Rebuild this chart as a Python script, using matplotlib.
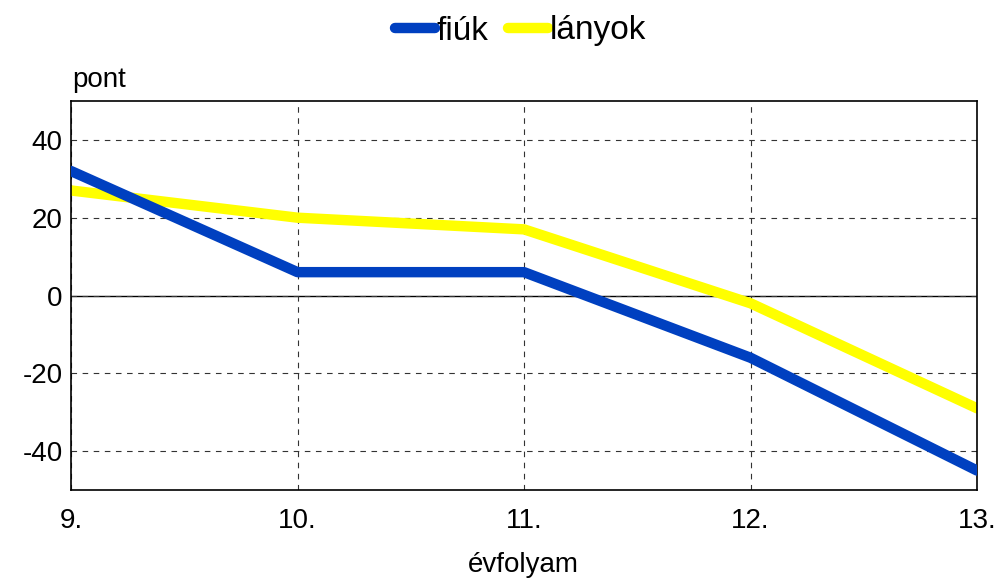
import matplotlib
matplotlib.use("Agg")
import matplotlib.pyplot as plt

plt.rcParams['font.family'] = ['Liberation Sans', 'DejaVu Sans']
plt.rcParams['axes.unicode_minus'] = False

grades = ["9.", "10.", "11.", "12.", "13."]
fiuk = [32, 6, 6, -16, -45]
lanyok = [27, 20, 17, -2, -29]

fig = plt.figure(figsize=(9.97, 5.78), dpi=100)
ax = fig.add_axes([0.0712, 0.1522, 0.9088, 0.6731])

x = list(range(len(grades)))
ax.plot(x, fiuk, color="#0040C0", lw=7.5, solid_capstyle="round", solid_joinstyle="round", label="fiúk", zorder=3)
ax.plot(x, lanyok, color="#FFFF00", lw=7.5, solid_capstyle="round", solid_joinstyle="round", label="lányok", zorder=2)

ax.set_xlim(0, len(grades) - 1)
ax.set_ylim(-50, 50)
ax.set_xticks(x)
ax.set_xticklabels(grades)
ax.set_yticks([-40, -20, 0, 20, 40])
ax.tick_params(axis='both', length=0, labelsize=20)
ax.tick_params(axis='x', pad=13)
ax.tick_params(axis='y', pad=6)
ax.grid(True, linestyle=(0, (5, 5)), color="#333333", lw=0.8, zorder=1)
ax.axhline(0, color="black", lw=1, zorder=1.5)
for s in ax.spines.values():
    s.set_color("black")
    s.set_linewidth(1.2)

fig.text(0.0722, 1 - 80 / 578, "pont", fontsize=20, ha="left", va="center")
fig.text(0.525, 1 - 565 / 578, "évfolyam", fontsize=20, ha="center", va="center")

leg = fig.legend(loc="center", bbox_to_anchor=(0.522, 1 - 31 / 578), ncol=2, frameon=False,
                 fontsize=24, handlelength=1.2, handletextpad=0.05, columnspacing=0.6,
                 borderpad=0, borderaxespad=0)
for h in leg.legend_handles:
    h.set_linewidth(7.5)
    h.set_solid_capstyle("round")

fig.savefig("out.png", dpi=100)
